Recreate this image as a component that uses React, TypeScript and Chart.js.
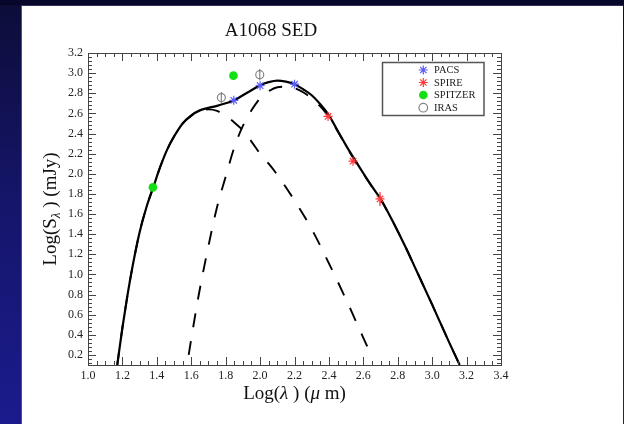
import React, { useEffect, useRef } from "react";
import { Chart, registerables } from "chart.js";

Chart.register(...registerables);

const FONT = '"Liberation Serif", "DejaVu Serif", serif';

// tick labels
const xTickValues = [1.0, 1.2, 1.4, 1.6, 1.8, 2.0, 2.2, 2.4, 2.6, 2.8, 3.0, 3.2, 3.4];
const yTickValues = [0.2, 0.4, 0.6, 0.8, 1.0, 1.2, 1.4, 1.6, 1.8, 2.0, 2.2, 2.4, 2.6, 2.8, 3.0, 3.2];

// total SED (solid)
const totalX = [1.17, 1.20, 1.23, 1.26, 1.30, 1.34, 1.38, 1.42, 1.46, 1.50, 1.55, 1.60, 1.65, 1.70, 1.75, 1.80, 1.85, 1.90, 1.95, 2.00, 2.05, 2.10, 2.15, 2.20, 2.25, 2.30, 2.35, 2.40, 2.45, 2.50, 2.55, 2.60, 2.65, 2.70, 2.75, 2.80, 2.85, 2.90, 3.00, 3.10, 3.16];
const totalY = [0.10, 0.47, 0.80, 1.09, 1.42, 1.67, 1.87, 2.07, 2.24, 2.37, 2.50, 2.58, 2.63, 2.655, 2.675, 2.70, 2.73, 2.78, 2.83, 2.88, 2.91, 2.925, 2.915, 2.89, 2.84, 2.78, 2.69, 2.58, 2.43, 2.28, 2.14, 2.005, 1.875, 1.75, 1.595, 1.43, 1.255, 1.07, 0.70, 0.32, 0.10];

// warm component (dashed)
const warmX = [1.17, 1.20, 1.23, 1.26, 1.30, 1.34, 1.38, 1.42, 1.46, 1.50, 1.55, 1.60, 1.65, 1.70, 1.75, 1.80, 1.85, 1.90, 1.95, 2.00, 2.05, 2.10, 2.20, 2.30, 2.40, 2.50, 2.60, 2.645];
const warmY = [0.10, 0.47, 0.80, 1.09, 1.42, 1.67, 1.87, 2.07, 2.24, 2.37, 2.50, 2.575, 2.62, 2.64, 2.625, 2.575, 2.51, 2.43, 2.32, 2.20, 2.10, 1.99, 1.735, 1.45, 1.11, 0.75, 0.37, 0.20];

// cold component (dashed)
const coldX = [1.585, 1.60, 1.645, 1.69, 1.75, 1.80, 1.85, 1.90, 1.95, 2.00, 2.05, 2.10, 2.15, 2.20, 2.25, 2.30, 2.35, 2.40, 2.45, 2.50, 2.55, 2.60, 2.65, 2.70, 2.75, 2.80, 2.85, 2.90, 3.00, 3.10, 3.16];
const coldY = [0.20, 0.36, 0.81, 1.20, 1.67, 1.97, 2.26, 2.475, 2.63, 2.75, 2.82, 2.86, 2.865, 2.85, 2.81, 2.75, 2.67, 2.565, 2.425, 2.275, 2.135, 2.0, 1.87, 1.75, 1.595, 1.43, 1.255, 1.07, 0.70, 0.32, 0.10];

// photometry
const pacsX = [1.847, 2.0, 2.2];
const pacsY = [2.73, 2.875, 2.89];
const spireX = [2.395, 2.54, 2.697];
const spireY = [2.57, 2.125, 1.75];
const spireErr = [0, 0, 0.07];
const spitzerX = [1.377, 1.845];
const spitzerY = [1.865, 2.975];
const irasX = [1.775, 1.998];
const irasY = [2.757, 2.985];
const irasErr = [0.055, 0.055];

const legendLabels = ["PACS", "SPIRE", "SPITZER", "IRAS"];

const PACS_C = "#5a5af5";
const SPIRE_C = "#ff3a3a";
const SPITZER_C = "#12e012";
const IRAS_C = "#858585";

const pts = (xs: number[], ys: number[]) => xs.map((x, i) => ({ x, y: ys[i] }));

function asterisk(ctx: CanvasRenderingContext2D, x: number, y: number, r: number, color: string) {
  ctx.save();
  ctx.strokeStyle = color;
  ctx.lineWidth = 1.2;
  ctx.beginPath();
  for (let k = 0; k < 4; k++) {
    const a = (k * Math.PI) / 4;
    ctx.moveTo(x - r * Math.cos(a), y - r * Math.sin(a));
    ctx.lineTo(x + r * Math.cos(a), y + r * Math.sin(a));
  }
  ctx.stroke();
  ctx.restore();
}

const decorPlugin = {
  id: "decor",
  afterDatasetsDraw(chart: any) {
    const ctx: CanvasRenderingContext2D = chart.ctx;
    const xs = chart.scales.x;
    const ys = chart.scales.y;
    ctx.save();
    ctx.strokeStyle = IRAS_C;
    ctx.lineWidth = 1.2;
    irasX.forEach((xv, i) => {
      const px = xs.getPixelForValue(xv);
      ctx.beginPath();
      ctx.moveTo(px, ys.getPixelForValue(irasY[i] - irasErr[i]));
      ctx.lineTo(px, ys.getPixelForValue(irasY[i] + irasErr[i]));
      ctx.stroke();
    });
    ctx.strokeStyle = SPIRE_C;
    spireX.forEach((xv, i) => {
      if (!spireErr[i]) return;
      const px = xs.getPixelForValue(xv);
      ctx.beginPath();
      ctx.moveTo(px, ys.getPixelForValue(spireY[i] - spireErr[i]));
      ctx.lineTo(px, ys.getPixelForValue(spireY[i] + spireErr[i]));
      ctx.stroke();
    });
    ctx.restore();
  },
  afterDraw(chart: any) {
    const ctx: CanvasRenderingContext2D = chart.ctx;
    const a = chart.chartArea;
    const xs = chart.scales.x;
    const ys = chart.scales.y;
    ctx.save();
    // frame
    ctx.strokeStyle = "#444";
    ctx.lineWidth = 1;
    ctx.strokeRect(Math.round(a.left) + 0.5, Math.round(a.top) + 0.5, Math.round(a.right - a.left), Math.round(a.bottom - a.top));
    // ticks
    const major = 8;
    const minor = 4;
    ctx.beginPath();
    for (let v = 1.0; v <= 3.4001; v += 0.05) {
      const isMajor = Math.abs(Math.round(v * 5) - v * 5) < 1e-6;
      const len = isMajor ? major : minor;
      const px = Math.round(xs.getPixelForValue(v)) + 0.5;
      ctx.moveTo(px, a.bottom);
      ctx.lineTo(px, a.bottom - len);
      ctx.moveTo(px, a.top);
      ctx.lineTo(px, a.top + len);
    }
    for (let v = 0.12; v <= 3.2001; v += 0.04) {
      const isMajor = Math.abs(Math.round(v * 5) - v * 5) < 1e-6;
      const len = isMajor ? major : minor;
      const py = Math.round(ys.getPixelForValue(v)) + 0.5;
      ctx.moveTo(a.left, py);
      ctx.lineTo(a.left + len, py);
      ctx.moveTo(a.right, py);
      ctx.lineTo(a.right - len, py);
    }
    ctx.stroke();

    // title
    ctx.fillStyle = "#111";
    ctx.font = `19px ${FONT}`;
    ctx.textAlign = "center";
    ctx.textBaseline = "alphabetic";
    ctx.fillText("A1068 SED", 271, 35.5);

    // x-axis title
    const xParts: [string, boolean][] = [["Log(", false], ["\u03BB", true], [" ) (", false], ["\u03BC", true], [" m)", false]];
    const fN = `19px ${FONT}`;
    const fI = `italic 19px ${FONT}`;
    let total = 0;
    xParts.forEach(([t, it]) => { ctx.font = it ? fI : fN; total += ctx.measureText(t).width; });
    let cx = (a.left + a.right) / 2 - total / 2;
    ctx.textAlign = "left";
    xParts.forEach(([t, it]) => {
      ctx.font = it ? fI : fN;
      ctx.fillText(t, cx, 399);
      cx += ctx.measureText(t).width;
    });

    // y-axis title
    ctx.save();
    ctx.translate(56, (a.top + a.bottom) / 2);
    ctx.rotate(-Math.PI / 2);
    const fS = `italic 13px ${FONT}`;
    const yParts: [string, string, number][] = [["Log(S", fN, 0], ["\u03BB", fS, 4], [" ) (mJy)", fN, 0]];
    total = 0;
    yParts.forEach(([t, f]) => { ctx.font = f; total += ctx.measureText(t).width; });
    let cy = -total / 2;
    yParts.forEach(([t, f, dy]) => {
      ctx.font = f;
      ctx.fillText(t, cy, dy);
      cy += ctx.measureText(t).width;
    });
    ctx.restore();

    // legend
    ctx.strokeStyle = "#555";
    ctx.lineWidth = 1.5;
    ctx.strokeRect(382.5, 62.5, 101.5, 53);
    const rows = [70, 82.5, 95, 107.7];
    const sx = 423.3;
    asterisk(ctx, sx, rows[0], 4.5, PACS_C);
    asterisk(ctx, sx, rows[1], 4.5, SPIRE_C);
    ctx.fillStyle = SPITZER_C;
    ctx.beginPath();
    ctx.arc(sx, rows[2], 4.3, 0, Math.PI * 2);
    ctx.fill();
    ctx.strokeStyle = IRAS_C;
    ctx.lineWidth = 1.2;
    ctx.beginPath();
    ctx.arc(sx, rows[3], 4.3, 0, Math.PI * 2);
    ctx.stroke();
    ctx.fillStyle = "#222";
    ctx.font = `10.5px ${FONT}`;
    ctx.textAlign = "left";
    ctx.textBaseline = "middle";
    legendLabels.forEach((l, i) => ctx.fillText(l, 434, rows[i] + 0.5));
    ctx.restore();
  },
};

export default function App() {
  const ref = useRef<HTMLCanvasElement>(null);
  useEffect(() => {
    document.body.style.margin = "0";
    const lineBase = { showLine: true, pointRadius: 0, pointHoverRadius: 0, fill: false, cubicInterpolationMode: "monotone" as const, borderColor: "#000", order: 2 };
    const chart = new Chart(ref.current!, {
      type: "scatter",
      data: {
        datasets: [
          { ...lineBase, label: "total", data: pts(totalX, totalY), borderWidth: 2.2 },
          { ...lineBase, label: "warm", data: pts(warmX, warmY), borderWidth: 1.9, borderDash: [14, 14] },
          { ...lineBase, label: "cold", data: pts(coldX, coldY), borderWidth: 1.9, borderDash: [14, 14] },
          { label: "PACS", data: pts(pacsX, pacsY), pointStyle: "star", pointRadius: 4.5, pointBorderWidth: 1.2, borderColor: PACS_C, backgroundColor: PACS_C, pointBorderColor: PACS_C, order: 1 },
          { label: "SPIRE", data: pts(spireX, spireY), pointStyle: "star", pointRadius: 4.5, pointBorderWidth: 1.2, borderColor: SPIRE_C, backgroundColor: SPIRE_C, pointBorderColor: SPIRE_C, order: 1 },
          { label: "SPITZER", data: pts(spitzerX, spitzerY), pointStyle: "circle", pointRadius: 4.3, pointBorderWidth: 0, borderColor: SPITZER_C, backgroundColor: SPITZER_C, pointBackgroundColor: SPITZER_C, order: 1 },
          { label: "IRAS", data: pts(irasX, irasY), pointStyle: "circle", pointRadius: 4, pointBorderWidth: 1.2, borderColor: IRAS_C, pointBorderColor: IRAS_C, backgroundColor: "rgba(0,0,0,0)", pointBackgroundColor: "rgba(0,0,0,0)", order: 1 },
        ] as any,
      },
      options: {
        animation: false,
        responsive: false,
        devicePixelRatio: 1,
        layout: { padding: { left: 0, top: 53, right: 123, bottom: 0 } },
        plugins: { legend: { display: false }, tooltip: { enabled: false }, title: { display: false } },
        events: [],
        scales: {
          x: {
            type: "linear",
            min: 1.0,
            max: 3.4,
            grid: { display: false, drawTicks: false },
            border: { display: false },
            afterBuildTicks: (s: any) => { s.ticks = xTickValues.map((v) => ({ value: v })); },
            afterFit: (s: any) => { s.height = 59; },
            ticks: { autoSkip: false, maxRotation: 0, padding: 4, color: "#222", font: { family: FONT, size: 12 }, callback: (v: any) => Number(v).toFixed(1) },
          },
          y: {
            type: "linear",
            min: 0.1,
            max: 3.2,
            grid: { display: false, drawTicks: false },
            border: { display: false },
            afterBuildTicks: (s: any) => { s.ticks = yTickValues.map((v) => ({ value: v })); },
            afterFit: (s: any) => { s.width = 88; },
            ticks: { autoSkip: false, padding: 5, color: "#222", font: { family: FONT, size: 12 }, callback: (v: any) => Number(v).toFixed(1) },
          },
        },
      } as any,
      plugins: [decorPlugin],
    });
    return () => chart.destroy();
  }, []);
  return (
    <div style={{ position: "relative", width: 624, height: 424, overflow: "hidden", background: "linear-gradient(to bottom, #06062a 0px, #06062a 5px, #0d0d3a 6px, #15156a 200px, #1b1b8e 424px)" }}>
      <div style={{ position: "absolute", left: 0, top: 0, width: 624, height: 5, background: "#06062a" }} />
      <div style={{ position: "absolute", left: 21, top: 5, width: 601, height: 419, background: "#fff", borderLeft: "1px solid #50507a", borderTop: "1px solid #30305a" }} />
      <canvas ref={ref} width={624} height={424} style={{ position: "absolute", left: 0, top: 0 }} />
    </div>
  );
}
